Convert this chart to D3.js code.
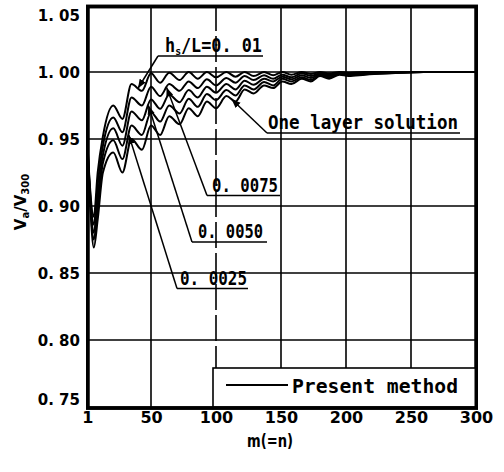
<!DOCTYPE html>
<html><head><meta charset="utf-8">
<script src="https://cdn.jsdelivr.net/npm/d3@7"></script>
<style>body{margin:0;background:#fff}svg{display:block}</style>
</head><body>
<svg id="c" width="504" height="472"></svg>
<script>
// ---- data ----
const mValues = [1,3,6,9,13,21,28,35,43,50,57,64,72,79,86,93,100,108,115,122,129,137,144,151,158,166,173,180,187,195,202,215,235,260,300];
const hs0100 = [.950,.915,.892,.925,.952,.975,.965,.991,.986,.999,.992,.9995,.994,1.0,.995,1.0,.996,1.0,.9965,1.0,.997,1.0,.9975,1.0,.998,1.0,.9985,1.0,.999,1.0,.9995,1.0,1.0,1.0,1.0];
const hs0075 = [.949,.9125,.886,.916,.945,.966,.955,.981,.975,.989,.982,.991,.986,.993,.988,.9945,.990,.9955,.992,.997,.994,.9975,.995,.998,.996,.999,.997,.9992,.998,.9995,.999,.9995,.9998,1.0,1.0];
const hs0050 = [.948,.910,.880,.907,.938,.958,.945,.9705,.964,.9795,.9725,.983,.9775,.9865,.981,.989,.9845,.991,.987,.9935,.9905,.995,.993,.9965,.9945,.9975,.9955,.9985,.997,.999,.998,.999,.9995,1.0,1.0];
const hs0025 = [.946,.9075,.875,.899,.932,.949,.935,.960,.953,.970,.963,.975,.969,.980,.974,.9835,.979,.9865,.9825,.990,.987,.9925,.990,.995,.993,.996,.994,.9978,.996,.9985,.9975,.9985,.9993,1.0,1.0];
const oneLayer = [.945,.905,.869,.890,.925,.940,.925,.950,.942,.960,.953,.967,.961,.973,.967,.978,.973,.982,.978,.987,.984,.990,.988,.993,.991,.995,.993,.997,.995,.998,.997,.998,.999,1.0,1.0];
const seriesList = [hs0100, hs0075, hs0050, hs0025, oneLayer];
const xTicks = [1,50,100,150,200,250,300];
const xTickLabels = ["1","50","100","150","200","250","300"];
const yTicks = [0.75,0.80,0.85,0.90,0.95,1.00,1.05];
const yTickLabels = ["0. 75","0. 80","0. 85","0. 90","0. 95","1. 00","1. 05"];
const xGrid = [50,100,150,200,250];
const yGrid = [0.80,0.85,0.90,0.95,1.00];

// ---- chart ----
const svg = d3.select("#c");
const x = d3.scaleLinear().domain([0,300]).range([86,476]);
const y = d3.scaleLinear().domain([0.75,1.05]).range([407,5]);

const defs = svg.append("defs");
defs.append("clipPath").attr("id","clip").append("rect")
  .attr("x",x(0)).attr("y",y(1.05)).attr("width",x(300)-x(0)).attr("height",y(0.75)-y(1.05));
defs.append("marker").attr("id","arr").attr("viewBox","0 0 10 10").attr("refX",10).attr("refY",5)
  .attr("markerWidth",9).attr("markerHeight",9).attr("markerUnits","userSpaceOnUse").attr("orient","auto")
  .append("path").attr("d","M0,1 L10,5 L0,9 Z").attr("fill","#000");

// grid
svg.append("g").selectAll("line").data(xGrid).join("line")
  .attr("x1",d=>x(d)).attr("x2",d=>x(d)).attr("y1",y(1.05)).attr("y2",y(0.75))
  .attr("stroke","#000").attr("stroke-width",1.6)
  .attr("stroke-dasharray",d=>d===100?"26,5":null);
svg.append("g").selectAll("line").data(yGrid).join("line")
  .attr("x1",x(0)).attr("x2",x(300)).attr("y1",d=>y(d)).attr("y2",d=>y(d))
  .attr("stroke","#000").attr("stroke-width",1.6);

// curves
const line = d3.line().x(d=>x(d[0])).y(d=>y(d[1])).curve(d3.curveMonotoneX);
svg.append("g").attr("clip-path","url(#clip)").selectAll("path").data(seriesList).join("path")
  .attr("d",s=>line(mValues.map((m,i)=>[m,s[i]])))
  .attr("fill","none").attr("stroke","#000").attr("stroke-width",2).attr("stroke-linejoin","round");

// frame
svg.append("rect").attr("x",x(0)+1.75).attr("y",y(1.05)+1.5).attr("width",x(300)-x(0)-1.5).attr("height",y(0.75)-y(1.05)-0.5)
  .attr("fill","none").attr("stroke","#000").attr("stroke-width",3.5);

// axes
const xAxis = svg.append("g").attr("transform",`translate(0,${y(0.75)})`)
  .call(d3.axisBottom(x).tickValues(xTicks).tickFormat((d,i)=>xTickLabels[i]).tickSize(0).tickPadding(5));
xAxis.select(".domain").remove();
xAxis.selectAll("text").attr("font-family","DejaVu Sans").attr("font-weight","bold").attr("font-size",16).attr("fill","#000");

const yAxis = svg.append("g").attr("transform",`translate(${x(0)},0)`)
  .call(d3.axisLeft(y).tickValues(yTicks).tickFormat((d,i)=>yTickLabels[i]).tickSize(0).tickPadding(6));
yAxis.select(".domain").remove();
yAxis.selectAll("text").attr("font-family","DejaVu Sans").attr("font-weight","bold").attr("font-size",15).attr("fill","#000")
  .attr("dy",(d)=> d===1.05 ? "1.0em" : d===0.75 ? "-0.2em" : "0.35em");

// axis titles
svg.append("text").attr("x",270).attr("y",447).attr("text-anchor","middle")
  .attr("font-family","DejaVu Sans").attr("font-weight","bold").attr("font-size",17)
  .attr("textLength",46).attr("lengthAdjust","spacingAndGlyphs").text("m(=n)");
const yl = svg.append("text").attr("transform","translate(26,202) rotate(-90)").attr("text-anchor","middle")
  .attr("font-family","DejaVu Sans").attr("font-weight","bold").attr("font-size",15);
yl.append("tspan").text("V");
yl.append("tspan").attr("font-size",10).attr("dy",3).text("a");
yl.append("tspan").attr("dy",-3).text("/V");
yl.append("tspan").attr("font-size",10).attr("dy",3).text("300");

// annotations
function valAt(s, m){
  const i = d3.bisectRight(mValues, m) - 1;
  const t = (m - mValues[i])/(mValues[i+1]-mValues[i]);
  return s[i] + t*(s[i+1]-s[i]);
}
const ann = [
  {label:null, sx:158, sy:56, ex:263, tx:165, ty:52, tl:97, s:hs0100, m:40},
  {label:"0. 0075", sx:207, sy:195.5, ex:280, tx:212, ty:192, tl:66, s:hs0075, m:62},
  {label:"0. 0050", sx:192, sy:242, ex:267, tx:198, ty:238, tl:65, s:hs0050, m:48},
  {label:"0. 0025", sx:177, sy:288.5, ex:248, tx:180, ty:285, tl:67, s:hs0025, m:33},
  {label:"One layer solution", sx:267, sy:133, ex:460, tx:268, ty:129, tl:190, s:oneLayer, m:112}
];
const ag = svg.append("g");
ann.forEach(a=>{
  ag.append("line").attr("x1",a.sx).attr("x2",a.ex).attr("y1",a.sy).attr("y2",a.sy)
    .attr("stroke","#000").attr("stroke-width",1.5);
  ag.append("line").attr("x1",a.sx).attr("y1",a.sy).attr("x2",x(a.m)).attr("y2",y(valAt(a.s,a.m)))
    .attr("stroke","#000").attr("stroke-width",1.5).attr("marker-end","url(#arr)");
  const t = ag.append("text").attr("x",a.tx).attr("y",a.ty)
    .attr("font-family","DejaVu Sans Mono").attr("font-weight","bold").attr("font-size",19)
    .attr("textLength",a.tl).attr("lengthAdjust","spacingAndGlyphs");
  if(a.label){ t.text(a.label); }
  else {
    t.append("tspan").text("h");
    t.append("tspan").attr("font-size",11).attr("dy",3).text("s");
    t.append("tspan").attr("dy",-3).text("/L=0. 01");
  }
});

// legend
const lg = svg.append("g");
lg.append("rect").attr("x",213).attr("y",368).attr("width",x(300)-213).attr("height",y(0.75)-368)
  .attr("fill","#fff").attr("stroke","#000").attr("stroke-width",1.6);
lg.append("line").attr("x1",226).attr("x2",288).attr("y1",385).attr("y2",385).attr("stroke","#000").attr("stroke-width",2);
lg.append("text").attr("x",292).attr("y",393).attr("font-family","DejaVu Sans Mono").attr("font-weight","bold")
  .attr("font-size",19).attr("textLength",166).attr("lengthAdjust","spacingAndGlyphs").text("Present method");
// redraw frame edge over legend
svg.append("rect").attr("x",x(0)+1.75).attr("y",y(1.05)+1.5).attr("width",x(300)-x(0)-1.5).attr("height",y(0.75)-y(1.05)-0.5)
  .attr("fill","none").attr("stroke","#000").attr("stroke-width",3.5);
</script>
</body></html>
